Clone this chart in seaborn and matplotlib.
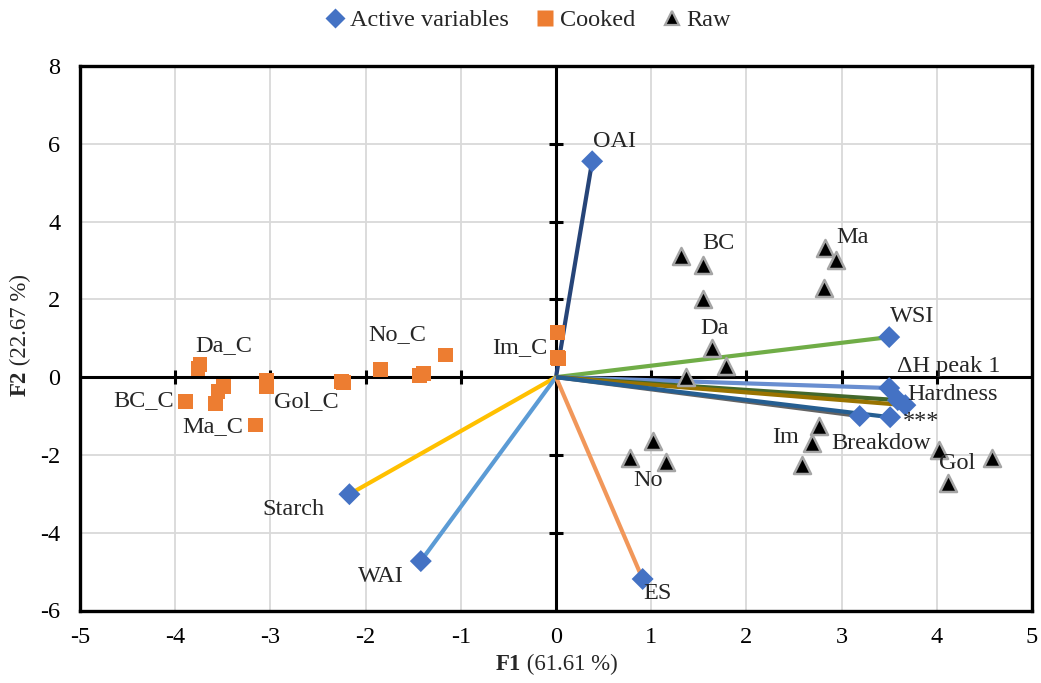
import matplotlib
matplotlib.use("Agg")
import matplotlib.pyplot as plt
from matplotlib.lines import Line2D
import seaborn as sns
import pandas as pd
import numpy as np

# ---------------- data ----------------
var_names = ["OAI", "WSI", "Starch", "WAI", "ES", "\u0394H peak 1",
             "Hardness_a", "Hardness", "Breakdow", "***"]
var_x = [0.38, 3.50, -2.17, -1.42, 0.91, 3.50, 3.59, 3.67, 3.19, 3.51]
var_y = [5.55, 1.03, -3.01, -4.73, -5.19, -0.28, -0.59, -0.72, -1.00, -1.03]
var_colors = ["#264478", "#70AD47", "#FFC000", "#5B9BD5", "#F1975A",
              "#698ED0", "#43682B", "#997300", "#636363", "#255E91"]
var_show_label = [True, True, True, True, True, True, False, True, True, True]
# label offsets (pixels) relative to the vector tip
var_label_dx = [22, 23, -56, -40, 15, 59, 0, 47, 21, 31]
var_label_dy = [20, 21, -15, -15, -15, 22, 0, 11, -27, -4]

cooked_x = [-3.76, -3.74, -3.89, -3.49, -3.55, -3.58, -3.16, -3.04, -3.04,
            -2.25, -2.23, -1.84, -1.43, -1.39, -1.16, 0.02, 0.03, 0.02]
cooked_y = [0.23, 0.33, -0.63, -0.25, -0.38, -0.68, -1.23, -0.08, -0.25,
            -0.12, -0.14, 0.20, 0.05, 0.09, 0.57, 1.14, 0.48, 0.50]

raw_x = [1.31, 1.54, 1.54, 2.83, 2.94, 2.81, 1.64, 1.79, 1.37,
         1.02, 0.78, 1.16, 2.76, 2.69, 2.58, 4.02, 4.12, 4.58]
raw_y = [3.11, 2.88, 2.02, 3.31, 3.02, 2.28, 0.74, 0.28, 0.01,
         -1.64, -2.07, -2.18, -1.26, -1.69, -2.26, -1.88, -2.71, -2.09]

raw_labels = ["BC", "Ma", "Da", "No", "Im", "Gol"]
raw_label_x = [1.71, 3.12, 1.67, 0.97, 2.41, 4.21]
raw_label_y = [3.44, 3.60, 1.26, -2.65, -1.54, -2.23]

cooked_labels = ["Da_C", "BC_C", "Ma_C", "Gol_C", "No_C", "Im_C"]
cooked_label_x = [-3.49, -4.33, -3.61, -2.62, -1.67, -0.38]
cooked_label_y = [0.82, -0.59, -1.26, -0.64, 1.10, 0.77]

x_ticks = list(range(-5, 6))
y_ticks = list(range(-6, 9, 2))

# ---------------- style ----------------
sns.set_theme(style="white")
plt.rcParams["font.family"] = ["Liberation Serif", "DejaVu Serif"]
plt.rcParams["axes.unicode_minus"] = False
FS = 17.5
FS_T = 16.5

fig = plt.figure(figsize=(10.41, 6.83), dpi=100)
ax = fig.add_axes([80 / 1041, 1 - 610.5 / 683, 952 / 1041, 544.5 / 683])

# zero axes with crossing tick marks
ax.axhline(0, color="black", lw=2.2, zorder=1)
ax.axvline(0, color="black", lw=2.2, zorder=1)
xt = [t for t in x_ticks if t not in (-5, 0, 5)]
yt = [t for t in y_ticks if t not in (-6, 0, 8)]
ax.plot(xt, [0] * len(xt), ls="none", marker="|", ms=10, mew=2.2, color="black", zorder=1)
ax.plot([0] * len(yt), yt, ls="none", marker="_", ms=10, mew=2.2, color="black", zorder=1)

# vectors
for x, y, c in zip(var_x, var_y, var_colors):
    ax.plot([0, x], [0, y], color=c, lw=3.0, solid_capstyle="butt", zorder=2)

vdf = pd.DataFrame({"x": var_x, "y": var_y})
sns.scatterplot(data=vdf, x="x", y="y", marker="D", s=125, color="#4472C4",
                edgecolor="none", ax=ax, zorder=4)

cdf = pd.DataFrame({"x": cooked_x, "y": cooked_y})
sns.scatterplot(data=cdf, x="x", y="y", marker="s", s=115, color="#ED7D31",
                edgecolor="none", ax=ax, zorder=3)

rdf = pd.DataFrame({"x": raw_x, "y": raw_y})
sns.scatterplot(data=rdf, x="x", y="y", marker="^", s=150, color="black",
                edgecolor="#A5A5A5", linewidth=1.8, ax=ax, zorder=3)

ax.set_xlabel("")
ax.set_ylabel("")
ax.set_xlim(-5, 5)
ax.set_ylim(-6, 8)
ax.set_xticks(x_ticks)
ax.set_yticks(y_ticks)
ax.grid(True, color="#D9D9D9", lw=1.3, zorder=0)
ax.set_axisbelow(True)
for s in ax.spines.values():
    s.set_color("black")
    s.set_linewidth(2.4)
ax.tick_params(axis="both", length=0, labelsize=FS, colors="black")
ax.tick_params(axis="x", pad=12)
ax.tick_params(axis="y", pad=14)

# labels
for n, x, y, dx, dy, show in zip(var_names, var_x, var_y, var_label_dx, var_label_dy, var_show_label):
    if show:
        ax.annotate(n, (x, y), xytext=(dx, dy), textcoords="offset pixels",
                    ha="center", va="center", fontsize=FS, zorder=5)
for n, x, y in zip(raw_labels, raw_label_x, raw_label_y):
    ax.text(x, y, n, ha="center", va="center", fontsize=FS, zorder=5)
for n, x, y in zip(cooked_labels, cooked_label_x, cooked_label_y):
    ax.text(x, y, n, ha="center", va="center", fontsize=FS, zorder=5)

# axis titles with bold prefix
fig.text(521 / 1041, 1 - 664 / 683, "F1", fontsize=FS_T, fontweight="bold",
         ha="right", va="center")
fig.text(521 / 1041, 1 - 664 / 683, " (61.61 %)", fontsize=FS_T,
         ha="left", va="center")
fig.text(20 / 1041, 1 - 371 / 683, "F2", fontsize=FS_T, fontweight="bold",
         ha="center", va="top", rotation=90)
fig.text(20 / 1041, 1 - 371 / 683, " (22.67 %)", fontsize=FS_T,
         ha="center", va="bottom", rotation=90)

handles = [
    Line2D([], [], ls="none", marker="D", ms=10, color="#4472C4", mec="none"),
    Line2D([], [], ls="none", marker="s", ms=11, color="#ED7D31", mec="none"),
    Line2D([], [], ls="none", marker="^", ms=10, color="black", mec="#A5A5A5", mew=1.6),
]
fig.legend(handles, ["Active variables", "Cooked", "Raw"], loc="center",
           bbox_to_anchor=(527 / 1041, 1 - 20 / 683), ncol=3, frameon=False,
           fontsize=FS, handletextpad=0.1, columnspacing=1.0, handlelength=1.0)

fig.savefig("out.png", dpi=100)
